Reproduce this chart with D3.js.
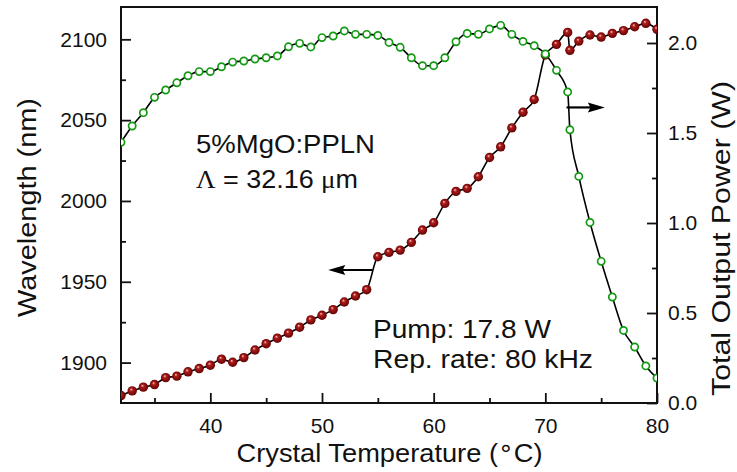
<!DOCTYPE html>
<html><head><meta charset="utf-8">
<script src="https://cdn.jsdelivr.net/npm/d3@7"></script>
<style>
body{margin:0;background:#fff}
svg{display:block}
text{font-family:"Liberation Sans",Arial,sans-serif;fill:#111}
</style>
</head><body><svg id="c" width="737" height="472"></svg>
<script>
// ---- data ----
const temperature = [32,33,34,35,36,37,38,39,40,41,42,43,44,45,46,47,48,49,50,51,
  52,53,54,55,56,57,58,59,60,61,62,63,64,65,66,67,68,69,70,71,72,72.2,73,74,75,76,77,78,79,80];
const wavelength = [1879.6,1882.5,1884.8,1886.4,1890.7,1891.6,1894.3,1896.3,1898.4,1902.1,
  1900.2,1903.1,1907.8,1911.7,1915.1,1918.2,1921.9,1926.4,1929.3,1932.8,
  1937.5,1941.2,1945.1,1965.5,1968.2,1969.6,1974.4,1982.0,1986.5,1998.5,
  2005.9,2007.8,2015.0,2026.9,2033.5,2045.2,2054.9,2062.8,2090.3,2096.9,
  2104.3,2093.2,2098.9,2102.7,2101.4,2103.7,2105.4,2107.8,2109.9,2106.2];
const power = [1.448,1.539,1.613,1.698,1.739,1.779,1.818,1.841,1.841,1.868,
  1.894,1.900,1.911,1.918,1.928,1.979,1.998,1.978,2.030,2.039,
  2.067,2.048,2.048,2.042,2.003,1.976,1.918,1.874,1.874,1.918,
  2.007,2.053,2.048,2.078,2.098,2.048,2.009,1.985,1.939,1.848,
  1.728,1.518,1.259,1.003,0.787,0.589,0.403,0.311,0.206,0.139];
const xTicks = [40,50,60,70,80];
const xMinorTicks = [35,45,55,65,75];
const wlTicks = [1900,1950,2000,2050,2100];
const wlMinorTicks = [1925,1975,2025,2075];
const pwTicks = [0,0.5,1.0,1.5,2.0];
const pwMinorTicks = [0.25,0.75,1.25,1.75];
const wlArrow = {x0:54.53, x1:50.56, y:1957.3};   // points left to wavelength axis
const pwArrow = {x0:71.9, x1:75.33, y:1.642};     // points right to power axis
const labelSample = ["5%MgO:PPLN"];
const labelPeriod = ["\u039B", " = 32.16 ", "\u03BC", "m"];
const labelPump = ["Pump: 17.8 W", "Rep. rate: 80 kHz"];

// ---- layout ----
const L=121, R=657, T=7, B=403;
const svg = d3.select("#c");
const x = d3.scaleLinear().domain([32,80]).range([L,R]);
const yL = d3.scaleLinear().domain([1875,2120]).range([B,T]);
const yR = d3.scaleLinear().domain([0,2.2]).range([B,T]);

const defs = svg.append("defs");
defs.append("clipPath").attr("id","clip").append("rect")
  .attr("x",L).attr("y",T).attr("width",R-L).attr("height",B-T);
const g = defs.append("radialGradient").attr("id","sphere")
  .attr("cx","50%").attr("cy","50%").attr("r","55%").attr("fx","38%").attr("fy","32%");
g.append("stop").attr("offset","0%").attr("stop-color","#f6d0d0");
g.append("stop").attr("offset","30%").attr("stop-color","#b01c1c");
g.append("stop").attr("offset","100%").attr("stop-color","#5a0000");

// axes
const tickFont = "21px";
const axB = svg.append("g").attr("transform",`translate(0,${B})`)
  .call(d3.axisBottom(x).tickValues(xTicks).tickSize(-10).tickPadding(15).tickFormat(d3.format("d")));
const axBm = svg.append("g").attr("transform",`translate(0,${B})`)
  .call(d3.axisBottom(x).tickValues(xMinorTicks).tickSize(-5).tickFormat(""));
const axL = svg.append("g").attr("transform",`translate(${L},0)`)
  .call(d3.axisLeft(yL).tickValues(wlTicks).tickSize(-10).tickPadding(14).tickFormat(d3.format("d")));
const axLm = svg.append("g").attr("transform",`translate(${L},0)`)
  .call(d3.axisLeft(yL).tickValues(wlMinorTicks).tickSize(-5).tickFormat(""));
const axR = svg.append("g").attr("transform",`translate(${R},0)`)
  .call(d3.axisRight(yR).tickValues(pwTicks).tickSize(-10).tickPadding(11).tickFormat(d3.format(".1f")));
const axRm = svg.append("g").attr("transform",`translate(${R},0)`)
  .call(d3.axisRight(yR).tickValues(pwMinorTicks).tickSize(-5).tickFormat(""));
[axB,axBm,axL,axLm,axR,axRm].forEach(a=>{
  a.select(".domain").remove();
  a.selectAll("line").attr("stroke","#111").attr("stroke-width",1.8);
  a.selectAll("text").style("font-size",tickFont).attr("fill","#111")
   .style("font-family","'Liberation Sans',Arial,sans-serif");
});

// frame
svg.append("rect").attr("x",L).attr("y",T).attr("width",R-L).attr("height",B-T)
  .attr("fill","none").attr("stroke","#111").attr("stroke-width",2);

// data layer
const plot = svg.append("g").attr("clip-path","url(#clip)");
const idx = d3.range(temperature.length);
const lineWl = d3.line().curve(d3.curveMonotoneX).x(i=>x(temperature[i])).y(i=>yL(wavelength[i]));
const linePw = d3.line().curve(d3.curveMonotoneX).x(i=>x(temperature[i])).y(i=>yR(power[i]));
plot.append("path").attr("d",lineWl(idx)).attr("fill","none").attr("stroke","#000").attr("stroke-width",1.6);
plot.append("path").attr("d",linePw(idx)).attr("fill","none").attr("stroke","#000").attr("stroke-width",1.6);
plot.selectAll("circle.wl").data(idx).join("circle").attr("class","wl")
  .attr("cx",i=>x(temperature[i])).attr("cy",i=>yL(wavelength[i])).attr("r",4.7)
  .attr("fill","url(#sphere)");
plot.selectAll("circle.pw").data(idx).join("circle").attr("class","pw")
  .attr("cx",i=>x(temperature[i])).attr("cy",i=>yR(power[i])).attr("r",3.6)
  .attr("fill","#fff").attr("stroke","#139a13").attr("stroke-width",1.7);

// arrows
function arrow(x0,x1,y){
  const dir = Math.sign(x1-x0), len=17, hw=5;
  svg.append("line").attr("x1",x0).attr("x2",x1-dir*len*0.6).attr("y1",y).attr("y2",y)
    .attr("stroke","#000").attr("stroke-width",2.2);
  svg.append("path").attr("d",`M${x1},${y}L${x1-dir*len},${y-hw}L${x1-dir*len*0.85},${y}L${x1-dir*len},${y+hw}Z`)
    .attr("fill","#000");
}
arrow(x(wlArrow.x0), x(wlArrow.x1), yL(wlArrow.y));
arrow(x(pwArrow.x0), x(pwArrow.x1), yR(pwArrow.y));

// annotations
svg.append("text").attr("x",196).attr("y",153.3).style("font-size","26px")
  .attr("textLength",179).attr("lengthAdjust","spacingAndGlyphs").text(labelSample[0]);
const t2 = svg.append("text").attr("x",196).attr("y",187.7).style("font-size","26px")
  .attr("textLength",162).attr("lengthAdjust","spacingAndGlyphs");
t2.append("tspan").style("font-family","'Liberation Serif','Times New Roman',serif").text(labelPeriod[0]);
t2.append("tspan").text(labelPeriod[1]);
t2.append("tspan").style("font-family","'Liberation Serif','Times New Roman',serif").text(labelPeriod[2]);
t2.append("tspan").text(labelPeriod[3]);
svg.append("text").attr("x",373).attr("y",338.3).style("font-size","26px")
  .attr("textLength",178).attr("lengthAdjust","spacingAndGlyphs").text(labelPump[0]);
svg.append("text").attr("x",373).attr("y",368.3).style("font-size","26px")
  .attr("textLength",220).attr("lengthAdjust","spacingAndGlyphs").text(labelPump[1]);

// axis titles
const xt = svg.append("text").attr("x",389.5).attr("y",461.7).attr("text-anchor","middle")
  .style("font-size","26px").attr("textLength",306).attr("lengthAdjust","spacingAndGlyphs");
xt.append("tspan").text("Crystal Temperature (");
xt.append("tspan").attr("dy",-6).style("font-family","'DejaVu Sans',sans-serif").style("font-size","24px").text("\u2218");
xt.append("tspan").attr("dy",6).text("C)");
svg.append("text").attr("transform","translate(36,207.5) rotate(-90)").attr("text-anchor","middle")
  .style("font-size","26px").attr("textLength",219).attr("lengthAdjust","spacingAndGlyphs")
  .text("Wavelength (nm)");
svg.append("text").attr("transform","translate(730,238.5) rotate(-90)").attr("text-anchor","middle")
  .style("font-size","26px").attr("textLength",315).attr("lengthAdjust","spacingAndGlyphs")
  .text("Total Output Power (W)");
</script></body></html>
